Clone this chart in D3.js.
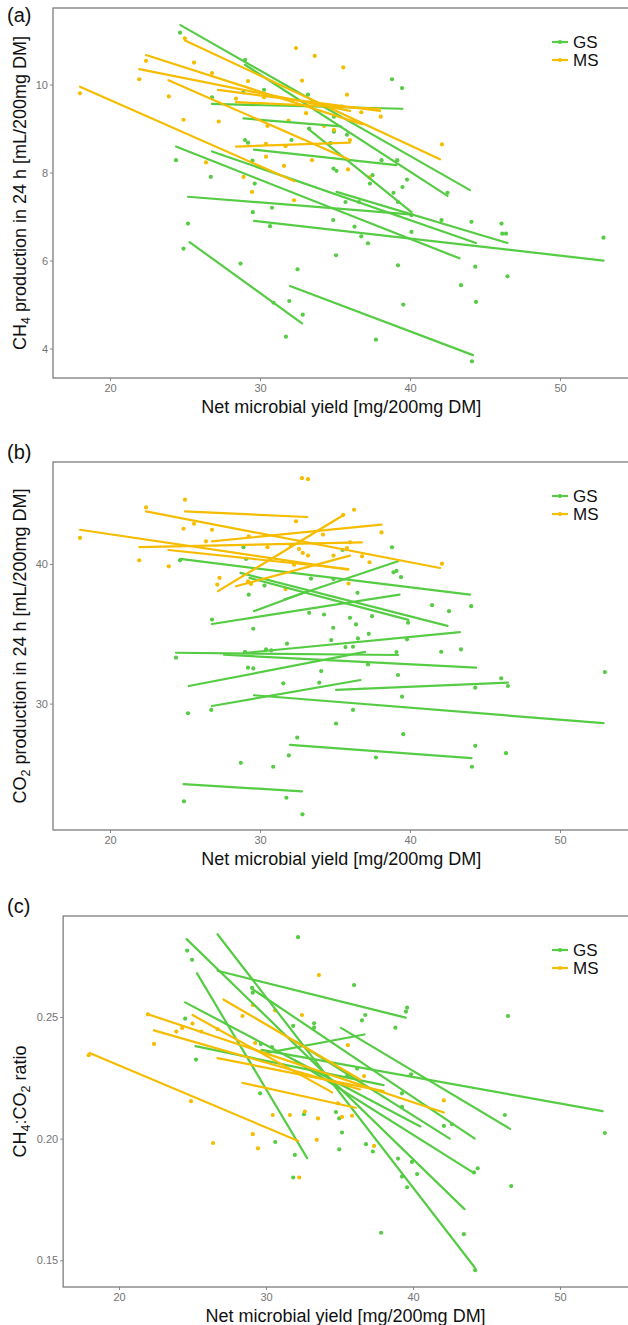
<!DOCTYPE html>
<html>
<head>
<meta charset="utf-8">
<script src="https://cdn.jsdelivr.net/npm/d3@7"></script>
<style>
  body { margin: 0; background: #fff; }
  svg { display: block; font-family: "Liberation Sans", Arial, sans-serif; }
</style>
</head>
<body>
<div id="grafico"></div>
<script>
// categorias y ticks
const grupos = ["GS", "MS"];
const coloresGrupo = ["#56CC45", "#F5BC00"];
const ticksX = [20, 30, 40, 50];
const ticksCH4 = [4, 6, 8, 10];
const ticksCO2 = [30, 40];
const ticksRatio = [0.15, 0.20, 0.25];

// (a) CH4 - puntos [x, y]
const ch4GS = [[24.67,11.18],[29.01,10.56],[30.27,9.88],[28.88,9.82],[26.8,9.71],[33.2,9.77],[38.8,10.12],[39.47,9.92],[35.47,9.5],[34.93,9.27],[33.28,9.0],[34.93,8.93],[29.0,8.74],[29.2,8.68],[32.1,8.74],[34.7,8.67],[35.8,8.86],
  [24.4,8.28],[26.72,7.9],[29.5,8.27],[25.2,6.84],[24.9,6.27],[29.52,7.1],[29.65,7.75],[30.8,7.2],[30.67,6.78],[34.88,6.92],[34.9,8.09],[35.1,8.04],[35.7,7.33],[36.3,6.77],[36.6,7.33],[36.75,6.55],[37.2,6.39],[37.33,7.75],[37.5,7.94],[38.9,7.54],[39.2,7.33],[39.5,7.67],[39.8,7.84],[40.1,6.65],[40.1,7.03],[42.1,6.92],[42.5,7.54],[44.1,6.88],[46.1,6.84],[46.15,6.61],[46.4,6.61],[52.9,6.52],
  [28.7,5.93],[35.07,6.12],[39.2,5.89],[44.35,5.86],[46.5,5.64],[32.5,5.8],[43.4,5.44],[30.9,5.04],[31.95,5.08],[39.55,5.0],[44.4,5.06],[38.1,8.28],[39.15,8.28],[32.85,4.77],[31.73,4.27],[37.73,4.2],[44.13,3.71]];
const ch4MS = [[24.99,11.05],[22.4,10.54],[25.6,10.5],[21.95,10.12],[26.8,10.26],[32.4,10.83],[33.65,10.65],[32.8,10.09],[35.55,10.39],[18.0,9.8],[23.92,9.73],[29.2,10.08],[28.4,9.68],[30.27,9.71],[35.8,9.77],[24.9,9.2],[27.25,9.16],[30.5,9.06],[31.9,9.18],[33.07,9.35],[34.27,9.06],[34.93,8.97],[36.75,9.37],[38.05,9.27],[42.13,8.64],[30.4,8.65],[31.7,8.6],[36.0,8.74],[26.4,8.23],[30.4,8.36],[31.6,8.15],[33.47,8.28],[35.87,8.07],[29.47,7.56],[28.9,7.9],[32.27,7.37],[37.3,7.89]];
// rectas [x1, y1, x2, y2]
const ch4GSRectas = [[24.7,11.35,44.0,7.6],[29.0,10.45,42.5,7.47],[26.8,9.56,39.5,9.45],[28.9,9.23,35.4,9.05],[33.2,9.0,40.1,7.1],[29.6,8.52,39.1,8.17],[24.4,8.59,43.3,6.05],[26.8,8.48,44.4,6.4],[25.2,7.45,40.0,7.05],[29.6,6.9,52.9,6.0],[35.1,7.56,46.5,6.4],[25.3,6.42,32.8,4.57],[32.0,5.42,44.2,3.85]];
const ch4MSRectas = [[18.0,9.95,32.3,7.8],[25.0,11.0,42.0,8.3],[22.4,10.67,36.8,9.1],[21.95,10.35,36.0,9.4],[23.9,10.1,35.9,8.3],[27.2,9.88,38.0,9.4],[28.4,9.6,38.0,9.45],[28.4,8.59,36.0,8.68]];

// (b) CO2
const co2GS = [[28.9,41.2],[38.8,41.19],[29.07,40.36],[24.67,40.26],[35.5,41.0],[29.25,37.8],[30.3,38.45],[33.4,38.95],[34.9,38.93],[36.5,37.93],[38.9,39.4],[39.1,39.5],[39.4,39.05],
  [26.8,36.02],[29.55,35.36],[33.28,36.5],[34.27,36.38],[36.0,36.14],[36.4,35.67],[37.47,36.26],[34.88,35.43],[41.47,37.05],[42.6,36.62],[44.08,36.98],[39.87,35.79],[34.75,34.55],[37.25,35.0],[36.53,34.67],[31.8,34.29],[35.7,34.05],[36.2,34.07],[39.8,34.6],[42.08,33.71],[43.4,33.88],[39.1,33.69],[29.0,33.7],[30.4,33.88],[30.75,33.81],[24.4,33.29],[29.2,32.57],[29.55,32.52],[34.08,32.33],[37.2,32.8],[39.2,32.05],[31.55,31.45],[33.95,31.5],[46.08,31.81],[44.35,31.14],[46.53,31.26],[52.99,32.26],[39.47,30.5],[25.2,29.31],[26.75,29.55],[36.2,29.55],[35.07,28.57],[39.55,27.81],[32.48,27.57],[44.35,26.98],[46.4,26.45],[37.73,26.14],[44.13,25.48],[28.72,25.76],[30.88,25.48],[31.92,26.29],[24.93,23.0],[31.76,23.26],[32.83,22.07]];
const co2MS = [[32.8,46.14],[33.2,46.07],[25.0,44.6],[22.4,44.05],[36.27,43.88],[35.55,43.52],[18.0,41.86],[24.9,42.52],[25.6,42.88],[26.8,42.45],[32.4,43.05],[34.2,42.1],[38.1,42.26],[26.4,41.62],[29.25,41.98],[30.5,41.2],[32.05,41.3],[36.0,41.55],[32.6,41.07],[32.85,40.79],[33.2,40.6],[34.9,40.6],[35.8,41.14],[36.8,40.55],[37.3,40.12],[21.95,40.26],[23.92,39.83],[32.27,39.95],[42.13,40.02],[27.3,39.0],[27.15,38.52],[29.2,38.76],[29.4,38.57],[31.7,38.2],[35.9,38.6]];
const co2GSRectas = [[24.9,24.24,32.8,23.71],[32.0,27.05,44.1,26.1],[29.6,30.6,52.9,28.6],[26.8,29.83,36.7,31.69],[35.07,30.98,46.53,31.5],[25.25,31.26,37.0,33.7],[24.4,33.64,39.2,33.48],[27.6,33.5,44.4,32.57],[29.07,33.64,43.33,35.12],[26.8,35.7,39.3,37.8],[29.6,36.62,33.2,38.05],[24.67,40.36,44.0,37.8],[28.7,39.36,42.5,35.57],[29.3,39.0,39.9,36.0],[31.6,37.45,39.2,40.19]];
const co2MSRectas = [[18.0,42.45,35.87,39.6],[22.4,43.76,42.0,39.71],[25.0,43.76,33.15,43.36],[21.95,41.21,36.8,41.55],[26.8,41.62,38.1,42.81],[27.2,38.05,35.6,43.52],[28.4,38.4,36.0,40.6],[23.9,41.0,35.9,39.64]];

// (c) CH4:CO2
const ratioGS = [[32.18,0.2828],[24.64,0.2773],[24.97,0.2735],[35.99,0.2631],[29.05,0.262],[29.1,0.26],[39.6,0.2538],[39.52,0.2522],[24.5,0.2493],[36.75,0.2508],[36.53,0.2486],[46.46,0.2504],[31.85,0.2463],[33.27,0.2474],[33.27,0.2456],[38.8,0.2456],
  [25.24,0.2325],[29.65,0.2389],[30.4,0.2376],[29.6,0.2186],[32.58,0.21],[34.76,0.2109],[34.98,0.2083],[35.17,0.2025],[30.63,0.1986],[31.96,0.1933],[34.98,0.1956],[36.2,0.2288],[35.52,0.2257],[36.8,0.1977],[37.27,0.1947],[38.98,0.1918],[39.93,0.1904],[39.25,0.1844],[40.28,0.1854],[31.85,0.184],[42.1,0.2052],[42.65,0.2059],[46.25,0.2097],[53.05,0.2023],[39.25,0.213],[39.87,0.2264],[39.25,0.2186],[44.15,0.1861],[44.4,0.1878],[39.6,0.18],[46.68,0.1805],[37.83,0.1613],[43.46,0.1607],[44.23,0.1459]];
const ratioMS = [[33.6,0.2672],[29.1,0.2549],[30.62,0.2527],[32.45,0.2508],[28.4,0.2504],[21.97,0.2511],[25.0,0.2473],[26.7,0.245],[23.9,0.244],[25.6,0.244],[24.3,0.2455],[22.38,0.2389],[17.94,0.2343],[24.9,0.2154],[35.57,0.2384],[29.26,0.2393],[30.46,0.2097],[31.63,0.2097],[32.64,0.2111],[33.54,0.2083],[35.17,0.2089],[35.85,0.2094],[36.67,0.2257],[34.9,0.2145],[42.1,0.2157],[29.1,0.2018],[29.45,0.196],[26.4,0.1982],[33.45,0.1995],[37.35,0.197],[32.26,0.184]];
const ratioGSRectas = [[24.6,0.282,43.5,0.171],[26.7,0.284,44.2,0.147],[26.7,0.269,39.5,0.2497],[25.3,0.268,32.8,0.192],[29.7,0.2365,52.9,0.2113],[29.9,0.235,36.7,0.2428],[24.5,0.256,40.5,0.205],[29.05,0.2616,44.2,0.200],[25.2,0.238,38.0,0.222],[32.0,0.24,42.5,0.2],[35.1,0.2455,46.6,0.204],[32.0,0.232,44.1,0.186]];
const ratioMSRectas = [[18.0,0.2352,32.2,0.199],[21.97,0.2511,42.1,0.2107],[22.38,0.2445,36.4,0.2202],[25.0,0.2508,34.5,0.219],[27.1,0.2572,36.4,0.2243],[26.7,0.2331,38.0,0.2195],[28.4,0.2229,36.1,0.2127]];

const ancho = 628, alto = 1325;
const svg = d3.select("#grafico").append("svg")
  .attr("width", ancho)
  .attr("height", alto);

const paneles = [
  { etiqueta: "(a)", etqY: 22, arriba: 8, abajo: 378, x20: 110, x50: 560, yDom: [3.33, 11.74], ticks: ticksCH4, fmt: d3.format("d"),
    gs: ch4GS, ms: ch4MS, gsR: ch4GSRectas, msR: ch4MSRectas,
    titulo: [["CH", 0], ["4", 1], [" production in 24 h [mL/200mg DM]", 0]] },
  { etiqueta: "(b)", etqY: 459, arriba: 462, abajo: 830, x20: 110, x50: 560, yDom: [20.95, 47.3], ticks: ticksCO2, fmt: d3.format("d"),
    gs: co2GS, ms: co2MS, gsR: co2GSRectas, msR: co2MSRectas,
    titulo: [["CO", 0], ["2", 1], [" production in 24 h [mL/200mg DM]", 0]] },
  { etiqueta: "(c)", etqY: 913, arriba: 916, abajo: 1287, x20: 119, x50: 560, yDom: [0.139, 0.2915], ticks: ticksRatio, fmt: d3.format(".2f"),
    gs: ratioGS, ms: ratioMS, gsR: ratioGSRectas, msR: ratioMSRectas,
    titulo: [["CH", 0], ["4", 1], [":CO", 0], ["2", 1], [" ratio", 0]] }
];

paneles.forEach((p, i) => dibujarPanel(p, i));

function dibujarPanel(p, i) {
  const pxUnidad = (p.x50 - p.x20) / 30;
  const izq = p.x20 - 3.8 * pxUnidad;
  const der = p.x50 + 4.9 * pxUnidad;
  const x = d3.scaleLinear().domain([16.2, 54.9]).range([izq, der]);
  const y = d3.scaleLinear().domain(p.yDom).range([p.abajo, p.arriba]);

  const g = svg.append("g");

  // recorte del area de trazado
  g.append("clipPath").attr("id", "clip" + i)
    .append("rect").attr("x", izq).attr("y", p.arriba).attr("width", der - izq).attr("height", p.abajo - p.arriba);

  // ejes con d3
  const ejeX = g.append("g").attr("transform", `translate(0,${p.abajo})`)
    .call(d3.axisBottom(x).tickValues(ticksX).tickSize(3).tickPadding(3));
  const ejeY = g.append("g").attr("transform", `translate(${izq},0)`)
    .call(d3.axisLeft(y).tickValues(p.ticks).tickFormat(p.fmt).tickSize(3).tickPadding(2));
  [ejeX, ejeY].forEach(e => {
    e.select(".domain").remove();
    e.selectAll("line").attr("stroke", "#8a8a8a");
    e.selectAll("text").attr("fill", "#747474").attr("font-size", 11)
      .attr("font-family", "'Liberation Sans', Arial, sans-serif");
  });

  // marco
  g.append("rect")
    .attr("x", izq).attr("y", p.arriba)
    .attr("width", der - izq).attr("height", p.abajo - p.arriba)
    .attr("fill", "none").attr("stroke", "#7d7d7d").attr("stroke-width", 1.3);

  const area = g.append("g").attr("clip-path", `url(#clip${i})`);

  // puntos
  [p.gs, p.ms].forEach((pts, k) => {
    area.selectAll(null).data(pts).enter().append("circle")
      .attr("cx", d => x(d[0])).attr("cy", d => y(d[1]))
      .attr("r", 2.1).attr("fill", coloresGrupo[k]);
  });
  // rectas de regresion
  [p.gsR, p.msR].forEach((rs, k) => {
    area.selectAll(null).data(rs).enter().append("line")
      .attr("x1", d => x(d[0])).attr("y1", d => y(d[1]))
      .attr("x2", d => x(d[2])).attr("y2", d => y(d[3]))
      .attr("stroke", coloresGrupo[k]).attr("stroke-width", 2.2)
      .attr("stroke-linecap", "round");
  });

  // leyenda
  grupos.forEach((nombre, k) => {
    const ly = p.arriba + 34 + k * 18;
    g.append("line").attr("x1", 552).attr("x2", 568).attr("y1", ly).attr("y2", ly)
      .attr("stroke", coloresGrupo[k]).attr("stroke-width", 2.2);
    g.append("circle").attr("cx", 560).attr("cy", ly).attr("r", 2.1).attr("fill", coloresGrupo[k]);
    g.append("text").attr("x", 573).attr("y", ly + 6).attr("font-size", 17).attr("fill", "#111").text(nombre);
  });

  // etiqueta del panel
  svg.append("text").attr("x", 7).attr("y", p.etqY).attr("font-size", 20).attr("fill", "#111").text(p.etiqueta);

  // titulo eje x
  svg.append("text").attr("x", (izq + der) / 2 - 2).attr("y", p.abajo + 35)
    .attr("text-anchor", "middle").attr("font-size", 18).attr("fill", "#111")
    .text("Net microbial yield [mg/200mg DM]");

  // titulo eje y con subindices
  const ty = svg.append("text")
    .attr("transform", `translate(26,${(p.arriba + p.abajo) / 2}) rotate(-90)`)
    .attr("text-anchor", "middle").attr("font-size", 18).attr("fill", "#111");
  p.titulo.forEach(([t, sub], j) => {
    const prev = j > 0 ? p.titulo[j - 1][1] : 0;
    const dy = sub && !prev ? 4 : (!sub && prev ? -4 : 0);
    ty.append("tspan").attr("dy", dy).attr("font-size", sub ? 12.5 : 18).text(t);
  });
}
</script>
</body>
</html>
